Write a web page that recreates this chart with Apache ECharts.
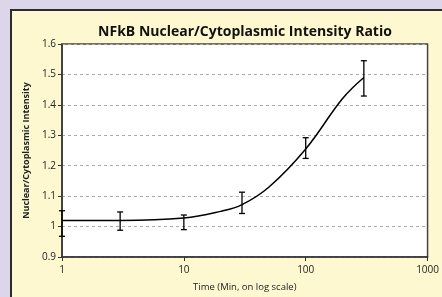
<!DOCTYPE html>
<html>
<head>
<meta charset="utf-8">
<script src="https://cdn.jsdelivr.net/npm/echarts@6/dist/echarts.min.js"></script>
<style>
  html, body { margin: 0; padding: 0; }
  #main { width: 442px; height: 297px; }
</style>
</head>
<body>
<div id="main"></div>
<script>
// measured points (time in min, ratio, error)
var times = [1, 3, 10, 30, 100, 300];
var ratios = [1.01, 1.018, 1.014, 1.078, 1.258, 1.487];
var errors = [0.042, 0.03, 0.024, 0.035, 0.034, 0.058];

// fitted curve
var curveTimes = [1, 3, 10, 20, 30, 50, 100, 200, 300];
var curveRatios = [1.02, 1.02, 1.028, 1.05, 1.072, 1.13, 1.255, 1.42, 1.49];

var xTicks = [1, 10, 100, 1000];
var yTicks = [0.9, 1, 1.1, 1.2, 1.3, 1.4, 1.5, 1.6];

var font = '"Open Sans", "Noto Sans", sans-serif';

var curveData = curveTimes.map(function (t, i) { return [t, curveRatios[i]]; });
var errData = times.map(function (t, i) { return [t, ratios[i] - errors[i], ratios[i] + errors[i]]; });

var myChart = echarts.init(document.getElementById('main'));
var option = {
  backgroundColor: '#ddd6ea',
  animation: false,
  graphic: [{
    type: 'rect',
    z: -1,
    shape: { x: 11, y: 10, width: 470, height: 320 },
    style: { fill: '#fdf8d0', stroke: '#2b2b2b', lineWidth: 2 }
  }],
  title: {
    text: 'NFkB Nuclear/Cytoplasmic Intensity Ratio',
    left: 240,
    textAlign: 'center',
    top: 20,
    textStyle: { fontFamily: font, fontWeight: 'bold', fontSize: 14, color: '#111' }
  },
  grid: {
    left: 62, top: 44, right: 3, bottom: 37,
    show: true,
    backgroundColor: '#ffffff',
    borderColor: '#444',
    borderWidth: 1.5
  },
  xAxis: {
    type: 'log',
    logBase: 10,
    min: 1,
    max: 1000,
    name: 'Time (Min, on log scale)',
    nameLocation: 'middle',
    nameGap: 25,
    nameTextStyle: { fontFamily: font, fontSize: 9.5, color: '#222' },
    axisLine: { lineStyle: { color: '#333', width: 1.5 } },
    axisTick: { show: true, length: 4, inside: false, lineStyle: { color: '#333' } },
    minorTick: { show: false },
    splitLine: { show: false },
    axisLabel: {
      fontFamily: font, fontSize: 10, color: '#222', margin: 8,
      alignMaxLabel: 'center',
      formatter: function (v) { return xTicks.indexOf(v) >= 0 ? String(v) : ''; }
    }
  },
  yAxis: {
    type: 'value',
    min: 0.9,
    max: 1.6,
    interval: 0.1,
    name: 'Nuclear/Cytoplasmic Intensity',
    nameLocation: 'middle',
    nameGap: 27,
    nameTextStyle: { fontFamily: font, fontSize: 9, fontWeight: 'bold', color: '#222' },
    axisLine: { show: true, lineStyle: { color: '#333', width: 1.5 } },
    axisTick: { show: true, length: 4, lineStyle: { color: '#333' } },
    splitLine: { show: true, lineStyle: { color: '#aaa', type: [3, 3], width: 1 } },
    axisLabel: {
      fontFamily: font, fontSize: 10, color: '#222', margin: 6,
      formatter: function (v) {
        var r = Math.round(v * 10) / 10;
        return yTicks.indexOf(r) >= 0 ? String(r) : '';
      }
    }
  },
  series: [
    {
      type: 'line',
      data: curveData,
      smooth: 0.4,
      symbol: 'none',
      lineStyle: { color: '#000', width: 1.5 },
      z: 3
    },
    {
      type: 'custom',
      data: errData,
      z: 4,
      renderItem: function (params, api) {
        var lo = api.coord([api.value(0), api.value(1)]);
        var hi = api.coord([api.value(0), api.value(2)]);
        var w = 3;
        var st = { stroke: '#000', lineWidth: 1.3 };
        return {
          type: 'group',
          children: [
            { type: 'line', shape: { x1: lo[0], y1: lo[1], x2: hi[0], y2: hi[1] }, style: st },
            { type: 'line', shape: { x1: lo[0] - w, y1: lo[1], x2: lo[0] + w, y2: lo[1] }, style: st },
            { type: 'line', shape: { x1: hi[0] - w, y1: hi[1], x2: hi[0] + w, y2: hi[1] }, style: st }
          ]
        };
      }
    }
  ]
};
myChart.setOption(option);
</script>
</body>
</html>
